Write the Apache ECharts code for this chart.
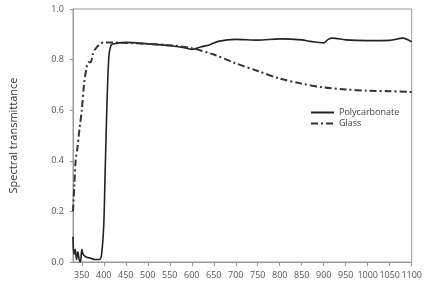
<!DOCTYPE html>
<html><head><meta charset="utf-8">
<script src="https://cdn.jsdelivr.net/npm/echarts@6/dist/echarts.min.js"></script>
<style>html,body{margin:0;padding:0;background:#fff}#c{width:425px;height:296px}</style>
</head><body><div id="c"></div>
<script>
const xTicks = [350,400,450,500,550,600,650,700,750,800,850,900,950,1000,1050,1100];
const polyWl = [330,332,335,338,341,344,347,350,353,360,370,380,390,395,400,403,406,409,412,416,420,450,500,550,580,600,620,640,660,700,750,800,850,870,900,910,920,950,1000,1050,1080,1100];
const polyVal = [0.10,0.03,0.05,0.01,0.04,0.01,0.00,0.05,0.03,0.02,0.015,0.01,0.01,0.03,0.15,0.35,0.55,0.72,0.82,0.855,0.862,0.868,0.862,0.855,0.848,0.840,0.850,0.858,0.872,0.880,0.877,0.882,0.878,0.872,0.866,0.880,0.885,0.878,0.875,0.876,0.885,0.870];
const glassWl = [330,333,336,340,345,350,355,360,365,370,375,380,390,400,450,500,550,600,650,700,750,800,850,900,950,1000,1050,1100];
const glassVal = [0.20,0.30,0.40,0.45,0.53,0.60,0.70,0.76,0.79,0.79,0.82,0.84,0.86,0.868,0.866,0.862,0.857,0.845,0.82,0.785,0.755,0.725,0.705,0.69,0.682,0.677,0.675,0.672];

const pair = (xs, ys) => xs.map((x, i) => [x, ys[i]]);
const chart = echarts.init(document.getElementById('c'));
const font = '"Open Sans", sans-serif';
chart.setOption({
  animation: false,
  textStyle: {fontFamily: font},
  grid: {left: 60, right: 12, top: 9, bottom: 34, show: true, borderColor: '#999', borderWidth: 1},
  legend: {
    orient: 'vertical', left: 305, top: 103, itemWidth: 23, itemHeight: 10, itemGap: 2,
    itemStyle: {opacity: 0},
    textStyle: {fontSize: 9, color: '#444', fontFamily: font},
    data: ['Polycarbonate', 'Glass']
  },
  xAxis: {
    type: 'value', min: 330, max: 1100,
    splitLine: {show: false},
    axisLine: {lineStyle: {color: '#999'}},
    axisTick: {customValues: xTicks, length: 4, lineStyle: {color: '#999'}},
    axisLabel: {customValues: xTicks, fontSize: 9, color: '#555', margin: 9, fontFamily: font,
      hideOverlap: false, formatter: v => String(v)}
  },
  yAxis: {
    type: 'value', min: 0, max: 1, interval: 0.2,
    name: 'Spectral transmittance', nameLocation: 'middle', nameGap: 54,
    nameTextStyle: {fontSize: 11, color: '#333', fontFamily: font},
    splitLine: {show: false},
    axisLine: {show: true, lineStyle: {color: '#999'}},
    axisTick: {show: true, length: 3, lineStyle: {color: '#999'}},
    axisLabel: {fontSize: 9, color: '#555', margin: 9, fontFamily: font, formatter: v => v.toFixed(1)}
  },
  series: [
    {name: 'Polycarbonate', type: 'line', showSymbol: false, symbol: 'none', smooth: 0.3,
     data: pair(polyWl, polyVal), lineStyle: {color: '#222', width: 1.6}, itemStyle: {color: '#222'}},
    {name: 'Glass', type: 'line', showSymbol: false, symbol: 'none', smooth: 0.3,
     data: pair(glassWl, glassVal), lineStyle: {color: '#333', width: 2, type: [7, 3, 2, 3]}, itemStyle: {color: '#333'}}
  ]
});
</script></body></html>
